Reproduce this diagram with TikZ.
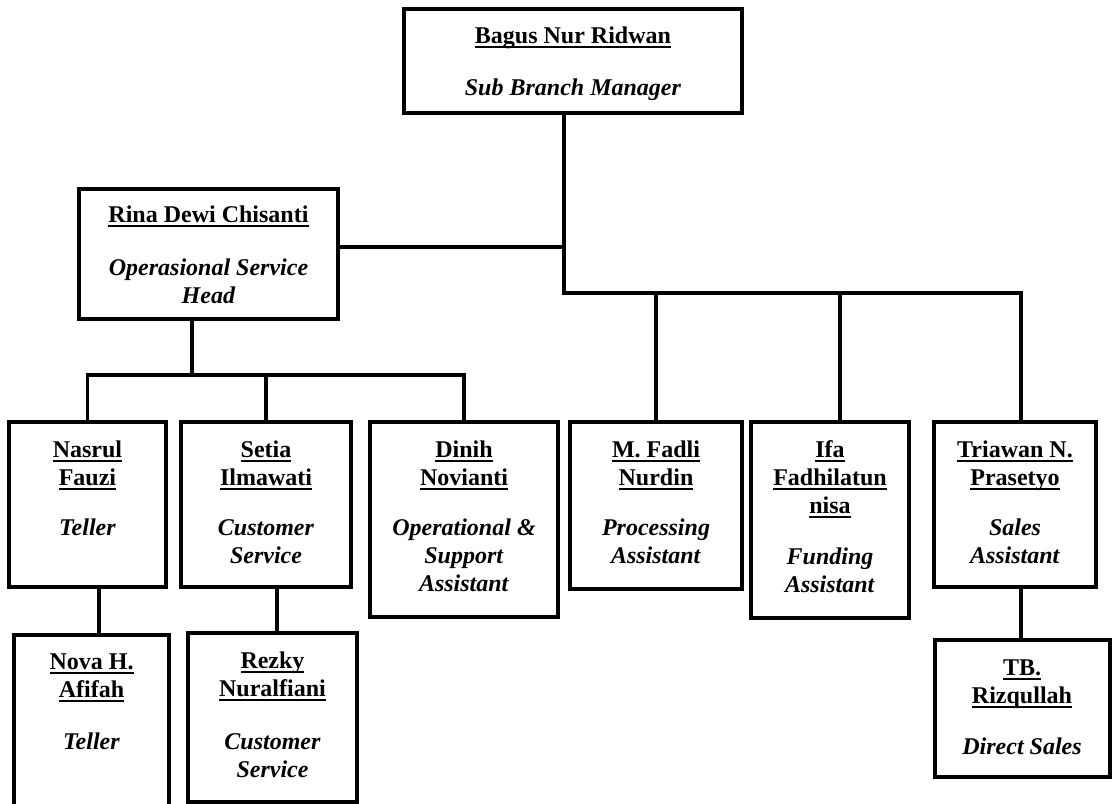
\documentclass[tikz,border=0pt]{standalone}
\usepackage{fontspec}
\setmainfont{Liberation Serif}
\newcommand\uln[1]{\setbox0\hbox{#1}\rlap{\rule[-4.5pt]{\wd0}{1.8pt}}\box0}
\newcommand\ttl[1]{\textit{#1}}
\begin{document}
\begin{tikzpicture}[x=1pt,y=-1pt,
  box/.style={draw=black, line width=3.5pt, inner sep=0pt, outer sep=0pt, anchor=north west},
  txt/.style={anchor=base, inner sep=0pt, font=\fontsize{24}{28}\selectfont\bfseries},
  conn/.style={draw=black, line width=3.2pt}]
\useasboundingbox (0,0) rectangle (1113,803);
% boxes
\node[box, minimum width=338pt, minimum height=104pt] (bnr) at (404,9) {};
\node[box, minimum width=259pt, minimum height=130pt] (rina) at (79,189) {};
\node[box, minimum width=157pt, minimum height=165pt] (nasrul) at (9,422) {};
\node[box, minimum width=170pt, minimum height=165pt] (setia) at (181,422) {};
\node[box, minimum width=188pt, minimum height=195pt] (dinih) at (370,422) {};
\node[box, minimum width=172pt, minimum height=167pt] (fadli) at (570,422) {};
\node[box, minimum width=158pt, minimum height=196pt] (ifa) at (751,422) {};
\node[box, minimum width=162pt, minimum height=165pt] (triawan) at (934,422) {};
\node[box, minimum width=155pt, minimum height=185pt] (nova) at (14,635) {};
\node[box, minimum width=169pt, minimum height=169pt] (rezky) at (188,633) {};
\node[box, minimum width=175pt, minimum height=137pt] (tb) at (935,640) {};
% texts
\node[txt] (bnrT) at (573,43) {\begin{tabular}[t]{@{}c@{}}\uln{Bagus Nur Ridwan}\\[24pt]\ttl{Sub Branch Manager}\end{tabular}};
\node[txt] (rinaT) at (208.5,222) {\begin{tabular}[t]{@{}c@{}}\uln{Rina Dewi Chisanti}\\[25pt]\ttl{Operasional Service}\\\ttl{Head}\end{tabular}};
\node[txt] (nasrulT) at (87.5,457) {\begin{tabular}[t]{@{}c@{}}\uln{Nasrul}\\\uln{Fauzi}\\[22pt]\ttl{Teller}\end{tabular}};
\node[txt] (setiaT) at (266,457) {\begin{tabular}[t]{@{}c@{}}\uln{Setia}\\\uln{Ilmawati}\\[22pt]\ttl{Customer}\\\ttl{Service}\end{tabular}};
\node[txt] (dinihT) at (464,457) {\begin{tabular}[t]{@{}c@{}}\uln{Dinih}\\\uln{Novianti}\\[22pt]\ttl{Operational \&}\\\ttl{Support}\\\ttl{Assistant}\end{tabular}};
\node[txt] (fadliT) at (656,457) {\begin{tabular}[t]{@{}c@{}}\uln{M. Fadli}\\\uln{Nurdin}\\[22pt]\ttl{Processing}\\\ttl{Assistant}\end{tabular}};
\node[txt] (ifaT) at (830,457) {\begin{tabular}[t]{@{}c@{}}\uln{Ifa}\\\uln{Fadhilatun}\\\uln{nisa}\\[23pt]\ttl{Funding}\\\ttl{Assistant}\end{tabular}};
\node[txt] (triawanT) at (1015,457) {\begin{tabular}[t]{@{}c@{}}\uln{Triawan N.}\\\uln{Prasetyo}\\[22pt]\ttl{Sales}\\\ttl{Assistant}\end{tabular}};
\node[txt] (novaT) at (91.5,669) {\begin{tabular}[t]{@{}c@{}}\uln{Nova H.}\\\uln{Afifah}\\[24pt]\ttl{Teller}\end{tabular}};
\node[txt] (rezkyT) at (272.5,668) {\begin{tabular}[t]{@{}c@{}}\uln{Rezky}\\\uln{Nuralfiani}\\[25pt]\ttl{Customer}\\\ttl{Service}\end{tabular}};
\node[txt] (tbT) at (1022,675) {\begin{tabular}[t]{@{}c@{}}\uln{TB.}\\\uln{Rizqullah}\\[23pt]\ttl{Direct Sales}\end{tabular}};
% guide coordinates
\coordinate (xB) at (564,0);
\coordinate (xI) at (840,0);
\coordinate (xT) at (1021,0);
\coordinate (xR) at (192,0);
\coordinate (xN) at (99,0);
\coordinate (xS) at (277,0);
\coordinate (yT) at (0,293);
\coordinate (yR) at (0,247);
\coordinate (yS) at (0,375);
% connectors
\draw[conn] (bnr.south -| xB) -- (yT -| xB) -| (triawan.north -| xT);
\draw[conn] (rina.east |- yR) -- (yR -| xB);
\draw[conn] (yT -| fadli.north) -- (fadli.north);
\draw[conn] (yT -| xI) -- (ifa.north -| xI);
\draw[conn] (rina.south -| xR) -- (yS -| xR);
\draw[conn] (nasrul.north) -- (yS -| nasrul.north) -- (yS -| dinih.north) -- (dinih.north);
\draw[conn] (yS -| setia.north) -- (setia.north);
\draw[conn] (nasrul.south -| xN) -- (nova.north -| xN);
\draw[conn] (setia.south -| xS) -- (rezky.north -| xS);
\draw[conn] (triawan.south -| xT) -- (tb.north -| xT);
\end{tikzpicture}
\end{document}
